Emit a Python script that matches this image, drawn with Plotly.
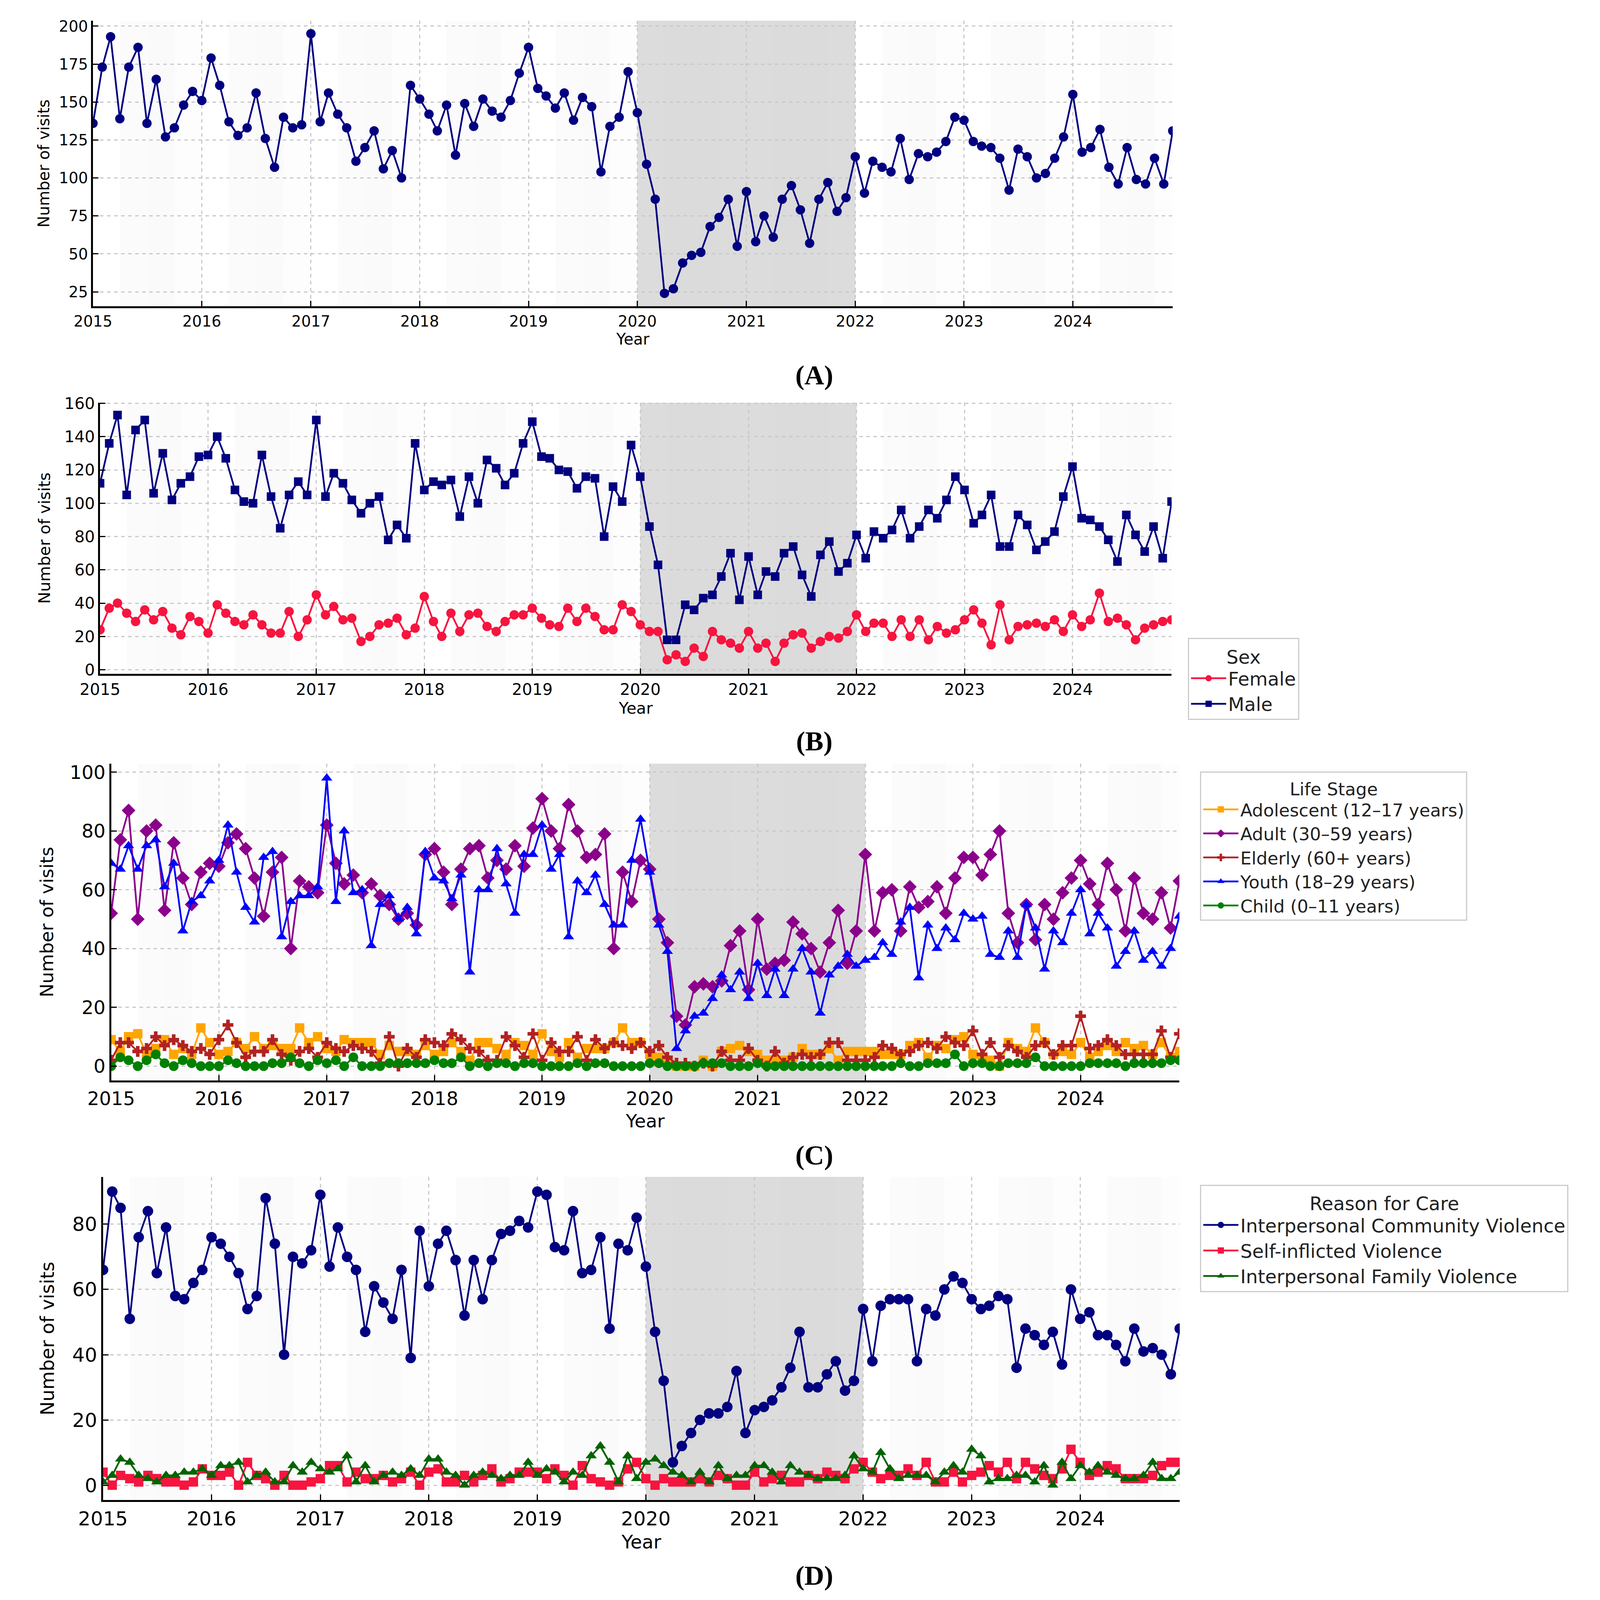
import pandas as pd
import plotly.graph_objects as go

# reference canvas used to express positions as fractions
W, H = 4231, 4901

# ---------------- data ----------------
months = pd.date_range("2015-01-01", periods=120, freq="MS")
years = list(range(2015, 2025))
year_labels = [str(y) for y in years]

total_visits = [
    136, 173, 193, 139, 173, 186, 136, 165, 127, 133, 148, 157,
    151, 179, 161, 137, 128, 133, 156, 126, 107, 140, 133, 135,
    195, 137, 156, 142, 133, 111, 120, 131, 106, 118, 100, 161,
    152, 142, 131, 148, 115, 149, 134, 152, 144, 140, 151, 169,
    186, 159, 154, 146, 156, 138, 153, 147, 104, 134, 140, 170,
    143, 109, 86, 24, 27, 44, 49, 51, 68, 74, 86, 55,
    91, 58, 75, 61, 86, 95, 79, 57, 86, 97, 78, 87,
    114, 90, 111, 107, 104, 126, 99, 116, 114, 117, 124, 140,
    138, 124, 121, 120, 113, 92, 119, 114, 100, 103, 113, 127,
    155, 117, 120, 132, 107, 96, 120, 99, 96, 113, 96, 131,
]

female = [
    24, 37, 40, 34, 29, 36, 30, 35, 25, 21, 32, 29,
    22, 39, 34, 29, 27, 33, 27, 22, 22, 35, 20, 30,
    45, 33, 38, 30, 31, 17, 20, 27, 28, 31, 21, 25,
    44, 29, 20, 34, 23, 33, 34, 26, 23, 29, 33, 33,
    37, 31, 27, 26, 37, 29, 37, 32, 24, 24, 39, 35,
    27, 23, 23, 6, 9, 5, 13, 8, 23, 18, 16, 13,
    23, 13, 16, 5, 16, 21, 22, 13, 17, 20, 19, 23,
    33, 23, 28, 28, 20, 30, 20, 30, 18, 26, 22, 24,
    30, 36, 28, 15, 39, 18, 26, 27, 28, 26, 30, 23,
    33, 26, 30, 46, 29, 31, 27, 18, 25, 27, 29, 30,
]

male = [
    112, 136, 153, 105, 144, 150, 106, 130, 102, 112, 116, 128,
    129, 140, 127, 108, 101, 100, 129, 104, 85, 105, 113, 105,
    150, 104, 118, 112, 102, 94, 100, 104, 78, 87, 79, 136,
    108, 113, 111, 114, 92, 116, 100, 126, 121, 111, 118, 136,
    149, 128, 127, 120, 119, 109, 116, 115, 80, 110, 101, 135,
    116, 86, 63, 18, 18, 39, 36, 43, 45, 56, 70, 42,
    68, 45, 59, 56, 70, 74, 57, 44, 69, 77, 59, 64,
    81, 67, 83, 79, 84, 96, 79, 86, 96, 91, 102, 116,
    108, 88, 93, 105, 74, 74, 93, 87, 72, 77, 83, 104,
    122, 91, 90, 86, 78, 65, 93, 81, 71, 86, 67, 101,
]

adolescent = [
    9, 5, 10, 11, 4, 6, 9, 4, 6, 4, 13, 8,
    4, 5, 8, 6, 10, 6, 7, 6, 6, 13, 8, 10,
    6, 5, 9, 8, 8, 8, 4, 7, 5, 5, 4, 7,
    4, 5, 8, 5, 2, 8, 8, 6, 4, 8, 7, 4,
    11, 5, 3, 8, 3, 6, 6, 6, 8, 13, 8, 8,
    4, 3, 2, 0, 0, 0, 2, 0, 5, 6, 7, 5,
    4, 2, 2, 2, 3, 6, 4, 4, 6, 2, 5, 5,
    5, 5, 4, 4, 4, 7, 8, 3, 7, 6, 9, 10,
    4, 3, 2, 0, 8, 6, 5, 13, 8, 4, 5, 4,
    8, 3, 5, 7, 5, 8, 6, 7, 4, 8, 3, 5,
]

adult = [
    52, 77, 87, 50, 80, 82, 53, 76, 64, 55, 66, 69,
    68, 76, 79, 74, 64, 51, 66, 71, 40, 63, 61, 59,
    82, 69, 62, 65, 59, 62, 58, 55, 50, 52, 48, 72,
    74, 66, 55, 67, 74, 75, 64, 70, 67, 75, 68, 81,
    91, 80, 74, 89, 80, 71, 72, 79, 40, 66, 56, 70,
    67, 50, 42, 17, 14, 27, 28, 27, 29, 41, 46, 26,
    50, 33, 35, 36, 49, 45, 40, 32, 42, 53, 35, 46,
    72, 46, 59, 60, 46, 61, 54, 56, 61, 52, 64, 71,
    71, 65, 72, 80, 52, 42, 55, 43, 55, 50, 59, 64,
    70, 62, 55, 69, 60, 46, 64, 52, 50, 59, 47, 63,
]

elderly = [
    2, 8, 8, 5, 6, 10, 7, 9, 7, 5, 6, 4,
    9, 14, 8, 3, 5, 5, 9, 4, 2, 5, 6, 3,
    8, 6, 5, 7, 6, 5, 1, 10, 0, 6, 3, 9,
    8, 7, 11, 9, 6, 5, 2, 2, 10, 7, 3, 11,
    2, 8, 5, 5, 10, 2, 9, 6, 8, 7, 6, 8,
    5, 7, 3, 1, 1, 0, 1, 0, 5, 2, 2, 6,
    2, 0, 5, 1, 3, 4, 3, 4, 8, 8, 2, 2,
    2, 3, 7, 6, 4, 5, 7, 8, 6, 10, 8, 7,
    12, 4, 8, 3, 7, 5, 3, 7, 8, 4, 7, 7,
    17, 6, 7, 9, 7, 4, 4, 4, 4, 12, 3, 11,
]

youth = [
    69, 67, 75, 67, 75, 77, 61, 69, 46, 56, 58, 63,
    70, 82, 66, 54, 49, 71, 73, 44, 56, 58, 58, 61,
    98, 56, 80, 59, 60, 41, 55, 58, 50, 54, 45, 73,
    64, 63, 57, 65, 32, 60, 60, 74, 62, 52, 72, 72,
    82, 67, 72, 44, 63, 59, 65, 55, 48, 48, 70, 84,
    66, 48, 39, 6, 12, 17, 18, 23, 31, 26, 32, 23,
    35, 24, 33, 24, 33, 40, 32, 18, 31, 34, 38, 34,
    36, 37, 42, 38, 49, 54, 30, 48, 40, 47, 43, 52,
    50, 51, 38, 37, 46, 37, 55, 47, 33, 46, 42, 52,
    60, 45, 52, 47, 34, 39, 46, 36, 39, 34, 40, 51,
]

child = [
    0, 3, 2, 0, 2, 4, 1, 0, 2, 1, 0, 0,
    0, 2, 1, 0, 0, 0, 1, 1, 3, 1, 0, 2,
    1, 2, 0, 3, 0, 0, 0, 1, 1, 1, 1, 1,
    2, 1, 1, 3, 0, 1, 0, 1, 1, 0, 1, 1,
    0, 0, 0, 0, 1, 0, 1, 1, 0, 0, 0, 0,
    1, 1, 0, 0, 0, 0, 1, 1, 1, 0, 0, 0,
    1, 0, 0, 0, 0, 0, 0, 0, 0, 0, 0, 0,
    0, 0, 0, 0, 1, 0, 0, 1, 1, 1, 4, 0,
    1, 1, 0, 0, 1, 1, 1, 3, 0, 0, 0, 0,
    0, 1, 1, 1, 1, 0, 1, 1, 1, 1, 2, 2,
]

community = [
    66, 90, 85, 51, 76, 84, 65, 79, 58, 57, 62, 66,
    76, 74, 70, 65, 54, 58, 88, 74, 40, 70, 68, 72,
    89, 67, 79, 70, 66, 47, 61, 56, 51, 66, 39, 78,
    61, 74, 78, 69, 52, 69, 57, 69, 77, 78, 81, 79,
    90, 89, 73, 72, 84, 65, 66, 76, 48, 74, 72, 82,
    67, 47, 32, 7, 12, 16, 20, 22, 22, 24, 35, 16,
    23, 24, 26, 30, 36, 47, 30, 30, 34, 38, 29, 32,
    54, 38, 55, 57, 57, 57, 38, 54, 52, 60, 64, 62,
    57, 54, 55, 58, 57, 36, 48, 46, 43, 47, 37, 60,
    51, 53, 46, 46, 43, 38, 48, 41, 42, 40, 34, 48,
]

self_inflicted = [
    4, 0, 3, 2, 1, 3, 2, 1, 1, 0, 1, 5,
    3, 3, 4, 0, 7, 3, 2, 0, 3, 0, 0, 1,
    2, 6, 6, 1, 4, 2, 2, 3, 1, 2, 4, 0,
    4, 5, 1, 1, 3, 1, 3, 5, 1, 2, 4, 4,
    4, 2, 5, 3, 0, 6, 2, 1, 0, 1, 5, 7,
    2, 0, 2, 1, 1, 1, 2, 1, 3, 2, 0, 0,
    4, 1, 2, 3, 1, 1, 3, 2, 4, 3, 2, 5,
    7, 4, 2, 3, 3, 5, 3, 7, 1, 1, 4, 1,
    3, 4, 6, 4, 7, 2, 7, 5, 3, 2, 5, 11,
    7, 3, 4, 6, 5, 2, 2, 2, 3, 6, 7, 7,
]

family = [
    1, 3, 8, 7, 3, 2, 1, 3, 3, 4, 4, 5,
    3, 6, 6, 7, 1, 3, 4, 1, 1, 6, 4, 7,
    5, 4, 5, 9, 1, 6, 1, 3, 4, 3, 5, 3,
    8, 8, 4, 3, 0, 3, 4, 3, 2, 3, 3, 7,
    3, 5, 4, 1, 4, 3, 9, 12, 7, 1, 9, 2,
    7, 8, 6, 4, 3, 1, 4, 1, 6, 2, 3, 3,
    6, 6, 4, 1, 6, 4, 3, 2, 2, 2, 3, 9,
    5, 4, 10, 5, 2, 3, 3, 3, 1, 4, 6, 4,
    11, 9, 1, 2, 2, 3, 3, 1, 6, 0, 7, 2,
    6, 4, 6, 4, 3, 2, 2, 3, 7, 2, 2, 4,
]

covid_start, covid_end = "2020-01-01", "2022-01-01"

# ---------------- layout helpers ----------------
def xd(l, r):
    return [l / W, r / W]

def yd(t, b):
    return [1 - b / H, 1 - t / H]

FONT = "DejaVu Sans"
NAVY = "#000080"
RED = "#f7143f"
FS = 0.95  # global font scale

panels = {
    # key: (left, right, top, bottom, yrange, yticks, tick font, label font, ylabel x, year standoff, letter y, letter)
    "1": (175, 3087, 28, 914, [15.45, 203.55], [25, 50, 75, 100, 125, 150, 175, 200], 41, 42, 42, 12, 1128, "A"),
    "2": (194, 3084, 1213, 2054, [-2.4, 160.4], [0, 20, 40, 60, 80, 100, 120, 140, 160], 43, 43, 44, 12, 2263, "B"),
    "3": (224, 3105, 2333, 3316, [-4.9, 102.9], [0, 20, 40, 60, 80, 100], 51, 49, 50, 16, 3548, "C"),
    "4": (202, 3106, 3615, 4617, [-4.5, 94.5], [0, 20, 40, 60, 80], 53, 50, 52, 16, 4852, "D"),
}

fig = go.Figure()

layout = dict(
    autosize=True,
    margin=dict(l=0, r=0, t=0, b=0, pad=0),
    paper_bgcolor="white", plot_bgcolor="white",
    font=dict(family=FONT, color="black"),
    shapes=[], annotations=[],
)

for k, (l, r, t, b, yr, yt, tf, lf, ylx, so, letter_y, letter) in panels.items():
    xname = "xaxis" if k == "1" else f"xaxis{k}"
    yname = "yaxis" if k == "1" else f"yaxis{k}"
    xref = "x" if k == "1" else f"x{k}"
    yref = "y" if k == "1" else f"y{k}"
    common = dict(
        showline=True, linecolor="black", linewidth=5, mirror=False,
        ticks="inside", ticklen=14, tickwidth=3, tickcolor="black",
        showgrid=True, gridcolor="#c9c9c9", gridwidth=2.5, griddash="dash",
        zeroline=False, tickfont=dict(family=FONT, size=round(tf * FS), color="black"),
    )
    layout[xname] = dict(
        common, type="date", domain=xd(l, r), anchor=yref,
        range=[months[0], months[-1]],
        tickvals=[f"{y}-01-01" for y in years], ticktext=year_labels,
        title=dict(text="Year", standoff=so,
                   font=dict(family=FONT, size=round(lf * FS), color="black")),
    )
    layout[yname] = dict(
        common, domain=yd(t, b), anchor=xref, range=yr, tickvals=yt,
        ticktext=[str(v) for v in yt],
    )
    # very subtle seasonal bands
    for y in years:
        for m0, m1, a in [(4, 7, 0.014), (7, 10, 0.02), (10, 13, 0.007)]:
            x0 = f"{y}-{m0:02d}-01"
            x1 = f"{y + 1}-01-01" if m1 == 13 else f"{y}-{m1:02d}-01"
            layout["shapes"].append(dict(
                type="rect", xref=xref, yref=f"{yref} domain", x0=x0, x1=x1,
                y0=0, y1=1, fillcolor=f"rgba(0,0,0,{a})", line=dict(width=0),
                layer="below"))
    # COVID period shading
    layout["shapes"].append(dict(
        type="rect", xref=xref, yref=f"{yref} domain", x0=covid_start, x1=covid_end,
        y0=0, y1=1, fillcolor="rgba(205,205,205,0.7)", line=dict(width=0),
        layer="below"))
    layout["annotations"].append(dict(
        text="Number of visits", xref="paper", yref="paper", x=ylx / W,
        y=1 - (t + b) / 2 / H, showarrow=False, textangle=-90,
        xanchor="center", yanchor="middle",
        font=dict(family=FONT, size=round(lf * FS), color="black")))
    layout["annotations"].append(dict(
        text=f"<b>({letter})</b>", xref="paper", yref="paper", x=2120 / W,
        y=1 - letter_y / H, showarrow=False, xanchor="center", yanchor="middle",
        font=dict(family="Liberation Serif", size=round(74 * FS), color="black")))

LW = 4.5

fig.add_trace(go.Scatter(
    x=months, y=total_visits, mode="lines+markers", xaxis="x", yaxis="y",
    line=dict(color=NAVY, width=LW), marker=dict(symbol="circle", size=24, color=NAVY),
    showlegend=False, name="Total"))

fig.add_trace(go.Scatter(
    x=months, y=female, mode="lines+markers", xaxis="x2", yaxis="y2", name="Female",
    line=dict(color=RED, width=LW), marker=dict(symbol="circle", size=24, color=RED),
    legend="legend"))
fig.add_trace(go.Scatter(
    x=months, y=male, mode="lines+markers", xaxis="x2", yaxis="y2", name="Male",
    line=dict(color=NAVY, width=LW), marker=dict(symbol="square", size=22, color=NAVY),
    legend="legend"))

c_series = [
    ("Adolescent (12–17 years)", adolescent, "#FFA500", "square", 24),
    ("Adult (30–59 years)", adult, "#8B008B", "diamond", 27),
    ("Elderly (60+ years)", elderly, "#B22222", "cross", 23),
    ("Youth (18–29 years)", youth, "#0000FF", "triangle-up", 25),
    ("Child (0–11 years)", child, "#008000", "circle", 25),
]
for name, vals, col, sym, sz in c_series:
    fig.add_trace(go.Scatter(
        x=months, y=vals, mode="lines+markers", xaxis="x3", yaxis="y3", name=name,
        line=dict(color=col, width=LW), marker=dict(symbol=sym, size=sz, color=col),
        legend="legend2"))

d_series = [
    ("Interpersonal Community Violence", community, NAVY, "circle", 27),
    ("Self-inflicted Violence", self_inflicted, RED, "square", 24),
    ("Interpersonal Family Violence", family, "#006400", "triangle-up", 25),
]
for name, vals, col, sym, sz in d_series:
    fig.add_trace(go.Scatter(
        x=months, y=vals, mode="lines+markers", xaxis="x4", yaxis="y4", name=name,
        line=dict(color=col, width=LW), marker=dict(symbol=sym, size=sz, color=col),
        legend="legend3"))

leg_common = dict(
    xanchor="left", yanchor="top", bgcolor="white", bordercolor="#cccccc",
    borderwidth=3, itemwidth=90, tracegroupgap=0,
)
layout["legend"] = dict(
    leg_common, x=3128 / W, y=1 - 1943 / H,
    font=dict(family=FONT, size=round(50 * FS), color="#222222"),
    title=dict(text="Sex", side="top center",
               font=dict(family=FONT, size=round(50 * FS), color="#222222")),
)
layout["legend2"] = dict(
    leg_common, x=3161 / W, y=1 - 2357 / H,
    font=dict(family=FONT, size=round(47 * FS), color="#222222"),
    title=dict(text="Life Stage", side="top center",
               font=dict(family=FONT, size=round(47 * FS), color="#222222")),
)
layout["legend3"] = dict(
    leg_common, x=3161 / W, y=1 - 3639 / H,
    font=dict(family=FONT, size=round(51 * FS), color="#222222"),
    title=dict(text="Reason for Care", side="top center",
               font=dict(family=FONT, size=round(51 * FS), color="#222222")),
)

fig.update_layout(**layout)
fig.write_html("out.html", default_width="calc(100vw - 16px)",
               default_height="calc(100vh - 16px)", config={"responsive": True})
